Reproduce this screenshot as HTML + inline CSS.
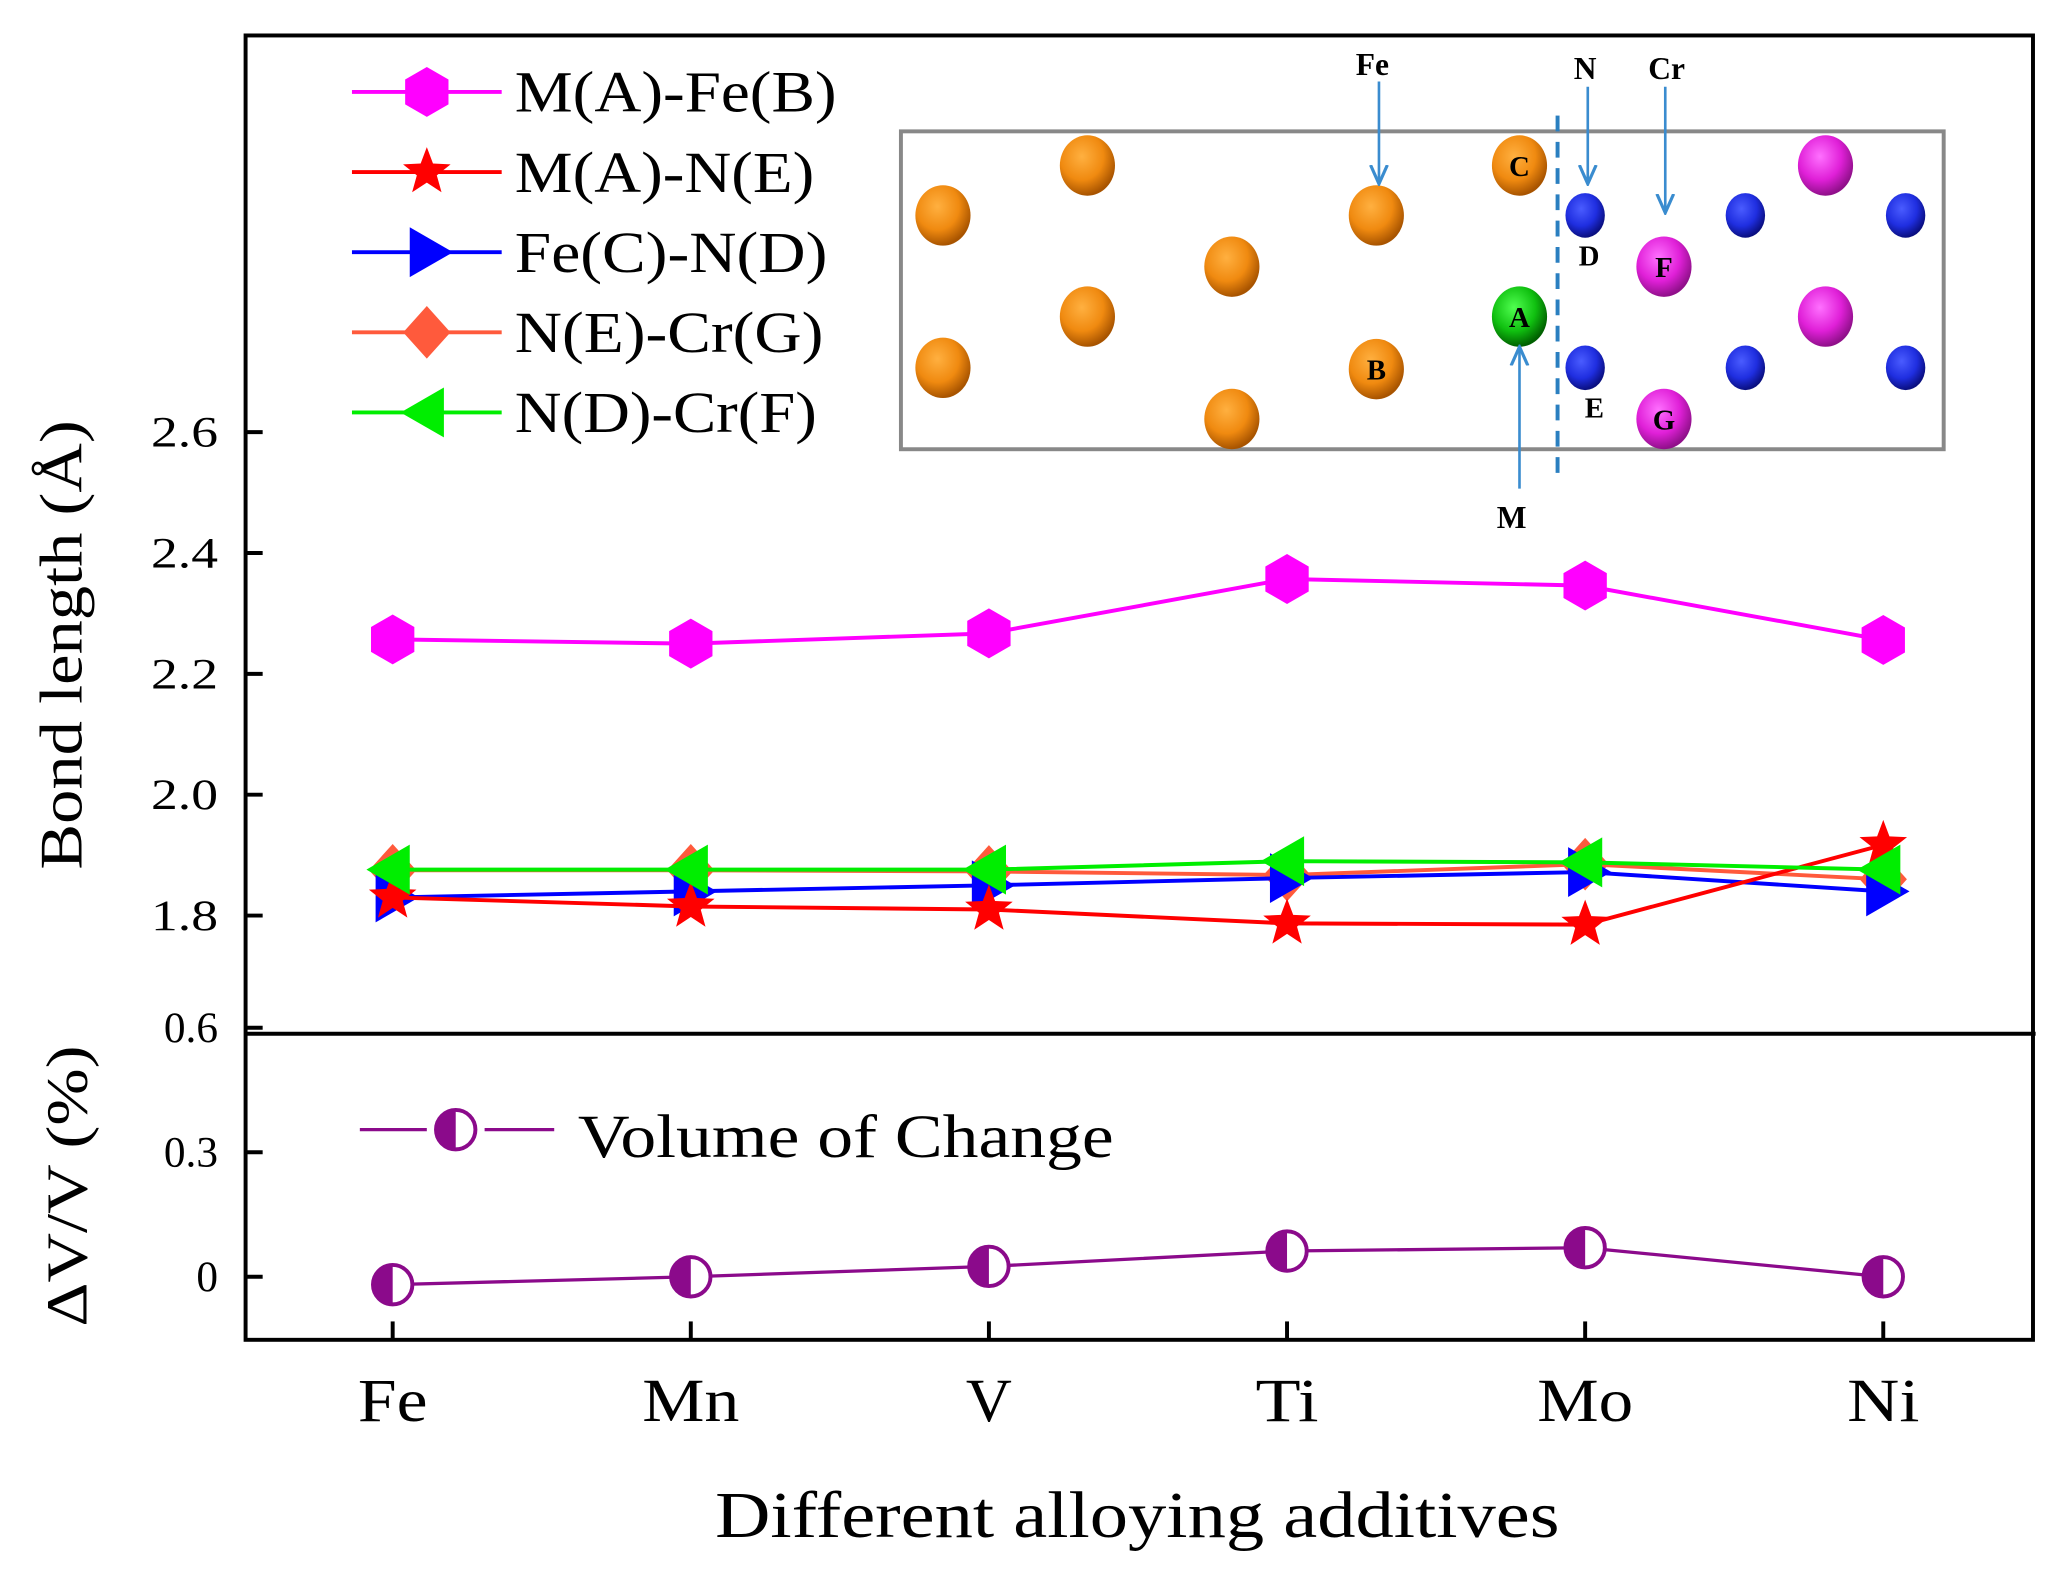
<!DOCTYPE html>
<html><head><meta charset="utf-8"><style>
html,body{margin:0;padding:0;background:#fff;}
svg{display:block;font-family:"Liberation Serif",serif;}
</style></head><body>
<svg id="chart" width="2054" height="1571" viewBox="0 0 1564 1196" preserveAspectRatio="none" xmlns="http://www.w3.org/2000/svg">
<defs>
<radialGradient id="gOr" cx="40%" cy="35%" r="65%"><stop offset="0" stop-color="#ffb040"/><stop offset="0.6" stop-color="#f08a10"/><stop offset="1" stop-color="#a85400"/></radialGradient>
<radialGradient id="gBl" cx="40%" cy="35%" r="65%"><stop offset="0" stop-color="#4a5cff"/><stop offset="0.6" stop-color="#1f2ee0"/><stop offset="1" stop-color="#0a0f80"/></radialGradient>
<radialGradient id="gPk" cx="40%" cy="35%" r="65%"><stop offset="0" stop-color="#ff70ff"/><stop offset="0.6" stop-color="#e020d8"/><stop offset="1" stop-color="#90108a"/></radialGradient>
<radialGradient id="gGr" cx="40%" cy="35%" r="65%"><stop offset="0" stop-color="#50ff50"/><stop offset="0.6" stop-color="#10c010"/><stop offset="1" stop-color="#006000"/></radialGradient>
<marker id="arr" viewBox="0 0 10 10" refX="9" refY="5" markerWidth="8" markerHeight="8" orient="auto"><path d="M0,1 L9,5 L0,9" fill="none" stroke="#3a8ccf" stroke-width="1.5"/></marker>
</defs>
<g id="frame"></g>
<g id="inset"></g>
<g id="marks"></g>
<g id="legend"></g>
</svg>
<script>
const categories = ["Fe","Mn","V","Ti","Mo","Ni"];
const seriesNames = ["M(A)-Fe(B)","M(A)-N(E)","Fe(C)-N(D)","N(E)-Cr(G)","N(D)-Cr(F)"];
const mafe = [2.257,2.25,2.267,2.357,2.346,2.256];
const man = [1.83,1.815,1.81,1.787,1.785,1.917];
const fecn = [1.83,1.84,1.85,1.862,1.872,1.84];
const necr = [1.875,1.875,1.873,1.867,1.885,1.86];
const ndcr = [1.876,1.876,1.876,1.89,1.888,1.876];
const volume = [-0.019,0,0.025,0.062,0.07,0];
const topTicks = [1.8,2.0,2.2,2.4,2.6];
const topTickLabels = ["1.8","2.0","2.2","2.4","2.6"];
const botTicks = [0,0.3,0.6];
const botTickLabels = ["0","0.3","0.6"];

const NS="http://www.w3.org/2000/svg";
function mk(tag,attrs,parent,text){const e=document.createElementNS(NS,tag);for(const k in attrs)e.setAttribute(k,attrs[k]);if(text!==undefined)e.textContent=text;parent.appendChild(e);return e;}
const xScale=i=>299+i*227;
const yTop=v=>697-(v-1.8)*460;
const yBot=v=>972-v*316;
const catW={Fe:53,Mn:74,V:35,Ti:48,Mo:73,Ni:55};
const legW=[245,228,238,235,230];

const frame=document.getElementById('frame');
let e;
e=mk('rect',{x:187,y:27,width:1361,height:993,fill:'none',stroke:'#000','stroke-width':3},frame);

e=mk('line',{x1:187,y1:787,x2:1550,y2:787,stroke:'#000','stroke-width':3},frame);

topTicks.forEach((t,i)=>{
  e=mk('line',{x1:187,y1:yTop(t),x2:200,y2:yTop(t),stroke:'#000','stroke-width':3},frame);
  
  e=mk('text',{x:166,y:yTop(t)+11,'text-anchor':'end','font-size':33,textLength:51,lengthAdjust:'spacingAndGlyphs'},frame,topTickLabels[i]);
  
});
botTicks.forEach((t,i)=>{
  e=mk('line',{x1:187,y1:yBot(t),x2:200,y2:yBot(t),stroke:'#000','stroke-width':3},frame);
  
  e=mk('text',{x:166,y:yBot(t)+11,'text-anchor':'end','font-size':33},frame,botTickLabels[i]);
  
});
categories.forEach((c,i)=>{
  e=mk('line',{x1:xScale(i),y1:1020,x2:xScale(i),y2:1006,stroke:'#000','stroke-width':3},frame);
  
  e=mk('text',{x:xScale(i),y:1082,'text-anchor':'middle','font-size':47,textLength:catW[c]||50,lengthAdjust:'spacingAndGlyphs'},frame,c);
  
});
e=mk('text',{x:866,y:1170,'text-anchor':'middle','font-size':50,textLength:643,lengthAdjust:'spacingAndGlyphs'},frame,'Different alloying additives');

e=mk('text',{x:0,y:0,'text-anchor':'middle','font-size':46,textLength:342,lengthAdjust:'spacingAndGlyphs',transform:'translate(62,491) rotate(-90)'},frame,'Bond length (Å)');

e=mk('text',{x:0,y:0,'text-anchor':'middle','font-size':44,textLength:214,lengthAdjust:'spacingAndGlyphs',transform:'translate(66,903) rotate(-90)'},frame,'ΔV/V (%)');


function marker(type,cx,cy,color,parent){
  const r=19;let el;
  if(type==='hex'){let p=[];for(let k=0;k<6;k++){const a=Math.PI/6+k*Math.PI/3;p.push((cx+r*Math.cos(a)).toFixed(1)+','+(cy+r*Math.sin(a)).toFixed(1));}el=mk('polygon',{points:p.join(' '),fill:color},parent);}
  else if(type==='star'){let p=[];for(let k=0;k<10;k++){const rr=k%2?r*0.42:r;const a=-Math.PI/2+k*Math.PI/5;p.push((cx+rr*Math.cos(a)).toFixed(1)+','+(cy+rr*Math.sin(a)).toFixed(1));}el=mk('polygon',{points:p.join(' '),fill:color},parent);}
  else if(type==='tri-r'){el=mk('polygon',{points:`${cx-13},${cy-19} ${cx+20},${cy} ${cx-13},${cy+19}`,fill:color},parent);}
  else if(type==='tri-l'){el=mk('polygon',{points:`${cx+13},${cy-19} ${cx-20},${cy} ${cx+13},${cy+19}`,fill:color},parent);}
  else if(type==='dia'){el=mk('polygon',{points:`${cx},${cy-20} ${cx+18},${cy} ${cx},${cy+20} ${cx-18},${cy}`,fill:color},parent);}
  else if(type==='half'){
    const g=mk('g',{},parent);
    mk('circle',{cx:cx,cy:cy,r:15,fill:'#fff',stroke:'#8b0a8b','stroke-width':3},g);
    mk('path',{d:`M${cx},${cy-15} A15,15 0 0 0 ${cx},${cy+15} Z`,fill:'#8b0a8b'},g);
    el=g;
  }
  return el;
}
const marks=document.getElementById('marks');
const defs=[
  {data:mafe,color:'#ff00ff',type:'hex',name:'m-fe'},
  {data:necr,color:'#ff5a3c',type:'dia',name:'n-cr-g'},
  {data:fecn,color:'#0000ff',type:'tri-r',name:'fe-n'},
  {data:man,color:'#ff0000',type:'star',name:'m-n'},
  {data:ndcr,color:'#00ee00',type:'tri-l',name:'n-cr-f'}
];
defs.forEach(s=>{
  const g=mk('g',{},marks);
  
  
  const pts=s.data.map((v,i)=>xScale(i)+','+yTop(v)).join(' ');
  e=mk('polyline',{points:pts,fill:'none',stroke:s.color,'stroke-width':3},g);
  
  s.data.forEach((v,i)=>{
    e=marker(s.type,xScale(i),yTop(v),s.color,g);
    
  });
});
{
  const g=mk('g',{},marks);
  
  
  e=mk('polyline',{points:volume.map((v,i)=>xScale(i)+','+yBot(v)).join(' '),fill:'none',stroke:'#8b0a8b','stroke-width':2.5},g);
  
  volume.forEach((v,i)=>{
    e=marker('half',xScale(i),yBot(v),'#8b0a8b',g);
    
  });
}
// legend
const legend=document.getElementById('legend');
const legDefs=[{c:'#ff00ff',t:'hex'},{c:'#ff0000',t:'star'},{c:'#0000ff',t:'tri-r'},{c:'#ff5a3c',t:'dia'},{c:'#00ee00',t:'tri-l'}];
seriesNames.forEach((n,i)=>{
  const y=70+i*61;
  const g=mk('g',{},legend);
  
  
  mk('line',{x1:268,y1:y,x2:382,y2:y,stroke:legDefs[i].c,'stroke-width':3},g);
  marker(legDefs[i].t,325,y,legDefs[i].c,g);
  mk('text',{x:392,y:y+15,'font-size':44,textLength:legW[i],lengthAdjust:'spacingAndGlyphs'},g,n);
});
{
  const g=mk('g',{},legend);
  
  
  mk('line',{x1:274,y1:860,x2:422,y2:860,stroke:'#8b0a8b','stroke-width':2.5},g);
  mk('rect',{x:325,y:840,width:44,height:40,fill:'#fff'},g);
  marker('half',347,860,'#8b0a8b',g);
  mk('text',{x:440,y:881,'font-size':47,textLength:408,lengthAdjust:'spacingAndGlyphs'},g,'Volume of Change');
}
// inset
const inset=document.getElementById('inset');
mk('rect',{x:686,y:100,width:794,height:242,fill:'#fff',stroke:'#888','stroke-width':3},inset);
const atoms=[
 [718,164,'gOr',21,''],[828,126,'gOr',21,''],[938,203,'gOr',21,''],[828,241,'gOr',21,''],[718,280,'gOr',21,''],[938,319,'gOr',21,''],
 [1048,164,'gOr',21,''],[1048,281,'gOr',21,'B'],[1157,126,'gOr',21,'C'],[1157,241,'gGr',21,'A'],
 [1207,164,'gBl',15,''],[1329,164,'gBl',15,''],[1451,164,'gBl',15,''],[1207,280,'gBl',15,''],[1329,280,'gBl',15,''],[1451,280,'gBl',15,''],
 [1390,126,'gPk',21,''],[1390,241,'gPk',21,''],[1267,203,'gPk',21,'F'],[1267,319,'gPk',21,'G']
];
atoms.forEach(a=>{
  const g=mk('g',{},inset);
  
  
  mk('ellipse',{cx:a[0],cy:a[1],rx:a[3],ry:a[3]+2,fill:'url(#'+a[2]+')'},g);
  if(a[4])mk('text',{x:a[0],y:a[1]+8,'text-anchor':'middle','font-size':22,'font-weight':'bold'},g,a[4]);
});
mk('text',{x:1210,y:202,'text-anchor':'middle','font-size':22,'font-weight':'bold'},inset,'D');
mk('text',{x:1214,y:318,'text-anchor':'middle','font-size':22,'font-weight':'bold'},inset,'E');
e=mk('line',{x1:1186,y1:88,x2:1186,y2:364,stroke:'#2a7fc0','stroke-width':3,'stroke-dasharray':'12,8'},inset);

[[1050,62,1050,140],[1209,66,1209,140],[1268,66,1268,162],[1157,372,1157,264]].forEach(a=>{
  e=mk('line',{x1:a[0],y1:a[1],x2:a[2],y2:a[3],stroke:'#3a8ccf','stroke-width':2,'marker-end':'url(#arr)'},inset);
  
});
mk('text',{x:1045,y:57,'text-anchor':'middle','font-size':24,'font-weight':'bold'},inset,'Fe');
mk('text',{x:1207,y:60,'text-anchor':'middle','font-size':24,'font-weight':'bold'},inset,'N');
mk('text',{x:1269,y:60,'text-anchor':'middle','font-size':24,'font-weight':'bold'},inset,'Cr');
mk('text',{x:1151,y:402,'text-anchor':'middle','font-size':24,'font-weight':'bold'},inset,'M');
</script>
</body></html>
